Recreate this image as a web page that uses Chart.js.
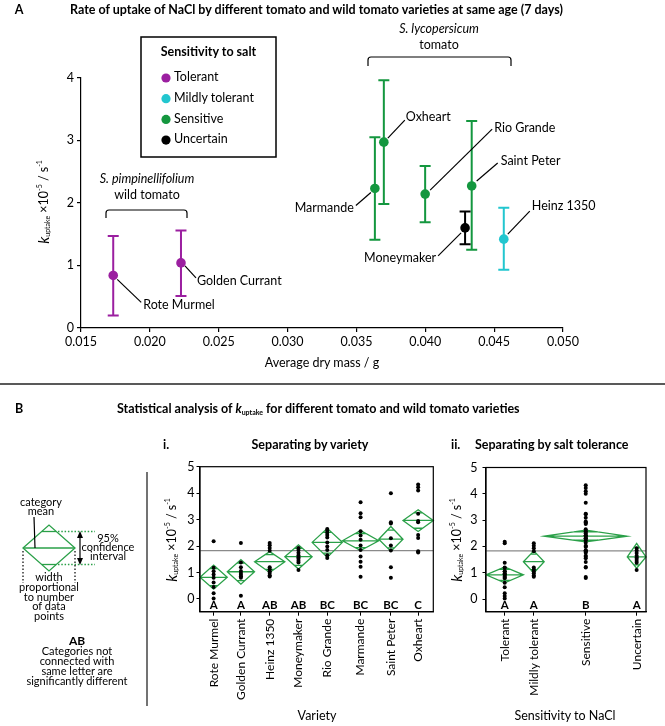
<!DOCTYPE html>
<html>
<head>
<meta charset="utf-8">
<script src="https://cdn.jsdelivr.net/npm/chart.js@4.4.1/dist/chart.umd.min.js"></script>
<style>
  html, body { margin: 0; padding: 0; background: #fff; }
  #page { position: relative; width: 665px; height: 726px; overflow: hidden; }
  #page canvas { position: absolute; }
  #overlay { position: absolute; left: 0; top: 0; pointer-events: none; }
</style>
</head>
<body>
<div id="page">
  <canvas id="chartA" width="620" height="300" style="left:0;top:60px"></canvas>
  <canvas id="chartVar" width="295" height="252" style="left:150px;top:455px"></canvas>
  <canvas id="chartTol" width="235" height="252" style="left:430px;top:455px"></canvas>

  <svg id="overlay" width="665" height="726" font-family="Lato, sans-serif" font-size="12.5">
    <!-- panel A headings -->
    <text x="19" y="11" font-weight="bold" text-anchor="middle" dominant-baseline="middle">A</text>
    <text x="70" y="11" font-weight="bold" dominant-baseline="middle">Rate of uptake of NaCl by different tomato and wild tomato varieties at same age (7 days)</text>

    <!-- legend box -->
    <rect x="141" y="37" width="135" height="120" fill="#fff" stroke="#000" stroke-width="1.5"/>
    <text x="208.5" y="53" font-weight="bold" text-anchor="middle" dominant-baseline="middle">Sensitivity to salt</text>
    <g id="legendItems"></g>

    <!-- species brackets -->
    <text x="147" y="180" text-anchor="middle" dominant-baseline="middle" font-style="italic">S. pimpinellifolium</text>
    <text x="147" y="196" text-anchor="middle" dominant-baseline="middle">wild tomato</text>
    <path d="M106,218 V213 Q106,210 109,210 H184 Q187,210 187,213 V218" fill="none" stroke="#000" stroke-width="1.2"/>
    <text x="439" y="30" text-anchor="middle" dominant-baseline="middle" font-style="italic">S. lycopersicum</text>
    <text x="439" y="46" text-anchor="middle" dominant-baseline="middle">tomato</text>
    <path d="M368,66 V60 Q368,57 371,57 H508 Q511,57 511,60 V66" fill="none" stroke="#000" stroke-width="1.2"/>

    <!-- panel A axis titles -->
    <text transform="translate(45,202) rotate(-90)" text-anchor="middle" dominant-baseline="middle"><tspan font-style="italic" font-size="15">k</tspan><tspan font-size="7" dy="3">uptake</tspan><tspan dy="-3"> ×10</tspan><tspan font-size="7" dy="-5">-5</tspan><tspan dy="5"> / s</tspan><tspan font-size="7" dy="-5">-1</tspan></text>
    <text x="322" y="364" text-anchor="middle" dominant-baseline="middle">Average dry mass / g</text>

    <line x1="0" y1="384" x2="665" y2="384" stroke="#222" stroke-width="1.6"/>

    <!-- panel B headings -->
    <text x="19" y="410" font-weight="bold" text-anchor="middle" dominant-baseline="middle">B</text>
    <text x="117" y="410" font-weight="bold" dominant-baseline="middle">Statistical analysis of <tspan font-style="italic">k</tspan><tspan font-size="7" dy="3">uptake</tspan><tspan dy="-3"> for different tomato and wild tomato varieties</tspan></text>
    <text x="163" y="446" font-weight="bold" dominant-baseline="middle">i.</text>
    <text x="310" y="446" font-weight="bold" text-anchor="middle" dominant-baseline="middle">Separating by variety</text>
    <text x="451" y="446" font-weight="bold" dominant-baseline="middle">ii.</text>
    <text x="475" y="446" font-weight="bold" dominant-baseline="middle">Separating by salt tolerance</text>

    <!-- y titles panel B -->
    <text transform="translate(173,540) rotate(-90)" text-anchor="middle" dominant-baseline="middle"><tspan font-style="italic" font-size="15">k</tspan><tspan font-size="7" dy="3">uptake</tspan><tspan dy="-3"> ×10</tspan><tspan font-size="7" dy="-5">-5</tspan><tspan dy="5"> / s</tspan><tspan font-size="7" dy="-5">-1</tspan></text>
    <text transform="translate(458,540) rotate(-90)" text-anchor="middle" dominant-baseline="middle"><tspan font-style="italic" font-size="15">k</tspan><tspan font-size="7" dy="3">uptake</tspan><tspan dy="-3"> ×10</tspan><tspan font-size="7" dy="-5">-5</tspan><tspan dy="5"> / s</tspan><tspan font-size="7" dy="-5">-1</tspan></text>
    <text x="317" y="717" text-anchor="middle" dominant-baseline="middle">Variety</text>
    <text x="565" y="717" text-anchor="middle" dominant-baseline="middle">Sensitivity to NaCl</text>

    <!-- key diagram -->
    <line x1="147" y1="472" x2="147" y2="706" stroke="#444" stroke-width="1.5"/>
    <g font-size="11" text-anchor="middle" dominant-baseline="middle">
      <text x="41" y="503">category</text>
      <text x="41" y="512">mean</text>
      <text x="108" y="539">95%</text>
      <text x="108" y="548">confidence</text>
      <text x="108" y="557">interval</text>
      <text x="49" y="578">width</text>
      <text x="49" y="588">proportional</text>
      <text x="49" y="598">to number</text>
      <text x="49" y="607">of data</text>
      <text x="49" y="617">points</text>
      <text x="77" y="642" font-weight="bold" font-size="12">AB</text>
      <text x="77" y="652">Categories not</text>
      <text x="77" y="662">connected with</text>
      <text x="77" y="672">same letter are</text>
      <text x="77" y="682">significantly different</text>
    </g>
    <g stroke="#2aa048" stroke-width="1.3" fill="none">
      <polygon points="23,548 49,525 75,548 49,571"/>
      <line x1="23" y1="548" x2="75" y2="548"/>
      <line x1="42" y1="531.5" x2="56" y2="531.5"/>
      <line x1="42" y1="564.5" x2="56" y2="564.5"/>
      <line x1="58" y1="531.5" x2="95" y2="531.5" stroke-dasharray="1.5,1.8"/>
      <line x1="58" y1="564.5" x2="95" y2="564.5" stroke-dasharray="1.5,1.8"/>
    </g>
    <g stroke="#000" stroke-width="1.2" fill="none">
      <line x1="34" y1="517" x2="35" y2="548"/>
      <line x1="23" y1="551" x2="23" y2="583" stroke-dasharray="1.5,2"/>
      <line x1="75" y1="551" x2="75" y2="583" stroke-dasharray="1.5,2"/>
      <line x1="80" y1="536" x2="80" y2="560"/>
    </g>
    <polygon points="80,531 77,538 83,538" fill="#000"/>
    <polygon points="80,565 77,558 83,558" fill="#000"/>
  </svg>
</div>

<script>
// ---- panel A: uptake vs dry mass ----
const varieties = ["Rote Murmel", "Golden Currant", "Marmande", "Oxheart", "Rio Grande", "Saint Peter", "Moneymaker", "Heinz 1350"];
const dryMass = [0.01734, 0.02226, 0.03634, 0.03699, 0.03999, 0.04337, 0.04289, 0.04570];
const kMean = [0.84, 1.04, 2.23, 2.97, 2.14, 2.27, 1.60, 1.42];
const kLow = [0.20, 0.51, 1.41, 1.98, 1.69, 1.25, 1.34, 0.93];
const kHigh = [1.47, 1.56, 3.05, 3.96, 2.59, 3.31, 1.86, 1.92];
const varTolerance = ["Tolerant", "Tolerant", "Sensitive", "Sensitive", "Sensitive", "Sensitive", "Uncertain", "Mildly tolerant"];
const toleranceClasses = ["Tolerant", "Mildly tolerant", "Sensitive", "Uncertain"];
const xTicksA = [0.015, 0.020, 0.025, 0.030, 0.035, 0.040, 0.045, 0.050];
const yTicksA = [0, 1, 2, 3, 4];

// ---- panel B: individual measurements per variety ----
const varOrder = ["Rote Murmel", "Golden Currant", "Heinz 1350", "Moneymaker", "Rio Grande", "Marmande", "Saint Peter", "Oxheart"];
const rotePts = [2.18, 1.18, 1.05, 0.93, 0.80, 0.62, 0.45, 0.22, 0.02];
const goldenPts = [2.12, 1.38, 1.20, 1.06, 0.98, 0.92, 0.86, 0.80, 0.12];
const heinzPts = [2.12, 2.03, 1.93, 1.82, 1.20, 1.12, 1.05, 0.98, 0.90, 0.85];
const moneyPts = [1.93, 1.85, 1.75, 1.65, 1.58, 1.52, 1.45, 1.38, 1.10];
const rioPts = [2.65, 2.58, 2.50, 2.42, 2.32, 2.14, 1.98, 1.85, 1.65, 1.55];
const marmandePts = [3.66, 3.24, 3.09, 2.56, 2.40, 2.24, 2.02, 1.85, 1.61, 1.41, 1.22, 0.84];
const peterPts = [4.00, 2.90, 2.85, 2.30, 2.02, 1.83, 1.20, 0.80];
const oxheartPts = [4.33, 4.22, 4.10, 3.22, 2.95, 2.90, 2.42, 2.31, 1.80, 1.76];
const varPoints = [rotePts, goldenPts, heinzPts, moneyPts, rioPts, marmandePts, peterPts, oxheartPts];
const varMeans = [0.82, 1.03, 1.41, 1.60, 2.14, 2.20, 2.26, 2.97];
const varCiLow = [0.37, 0.56, 1.00, 1.13, 1.57, 1.83, 1.80, 2.55];
const varCiHigh = [1.28, 1.49, 1.79, 2.05, 2.67, 2.59, 2.74, 3.37];
const varLetters = ["A", "A", "AB", "AB", "BC", "BC", "BC", "C"];

const tolMeans = [0.92, 1.42, 2.39, 1.60];
const tolCiLow = [0.62, 0.99, 2.17, 1.17];
const tolCiHigh = [1.22, 1.83, 2.62, 2.12];
const tolLetters = ["A", "A", "B", "A"];
const grandMean = 1.83;
const yTicksB = [0, 1, 2, 3, 4, 5];

Chart.defaults.font.family = "Lato, sans-serif";
Chart.defaults.color = "#000";
Chart.defaults.animation = false;

const tolColor = {
    "Tolerant": "#9b1fa0",
    "Mildly tolerant": "#22c6cf",
    "Sensitive": "#14973f",
    "Uncertain": "#000000"
};

// legend rows
const legendG = document.getElementById("legendItems");
toleranceClasses.forEach((cls, i) => {
    const cy = 78 + i * 20.7;
    legendG.insertAdjacentHTML("beforeend",
        `<circle cx="166" cy="${cy}" r="4.6" fill="${tolColor[cls]}"/>` +
        `<text x="174" y="${cy}" dominant-baseline="middle">${cls}</text>`);
});

// leader line + label offsets from the point: [x0, y0, x1, y1, textX, textY, align]
const labelPos = {
    "Rote Murmel": [4, 4, 28, 27, 30, 30, "left"],
    "Golden Currant": [4, 3, 15, 15, 16, 18, "left"],
    "Marmande": [-4, 4, -19, 17, -21, 20, "right"],
    "Oxheart": [4, -4, 21, -22, 22, -25, "left"],
    "Rio Grande": [5, -4, 67, -65, 69, -66, "left"],
    "Saint Peter": [5, -5, 26, -23, 29, -25, "left"],
    "Moneymaker": [-4, 5, -27, 28, -29, 30, "right"],
    "Heinz 1350": [4, -5, 26, -28, 28, -33, "left"]
};

const errorBars = {
    id: "errorBars",
    beforeDatasetsDraw(chart) {
        const { ctx, scales: { x, y } } = chart;
        ctx.save();
        ctx.lineWidth = 2;
        chart.data.datasets.forEach(ds => {
            ctx.strokeStyle = ds.backgroundColor;
            ds.data.forEach(p => {
                const px = x.getPixelForValue(p.x);
                const yl = y.getPixelForValue(p.lo);
                const yh = y.getPixelForValue(p.hi);
                ctx.beginPath();
                ctx.moveTo(px, yl); ctx.lineTo(px, yh);
                ctx.moveTo(px - 5.5, yl); ctx.lineTo(px + 5.5, yl);
                ctx.moveTo(px - 5.5, yh); ctx.lineTo(px + 5.5, yh);
                ctx.stroke();
            });
        });
        ctx.restore();
    },
    afterDatasetsDraw(chart) {
        const { ctx, scales: { x, y } } = chart;
        ctx.save();
        ctx.lineWidth = 1.2;
        ctx.strokeStyle = "#000";
        ctx.fillStyle = "#000";
        ctx.font = "12.5px Lato, sans-serif";
        ctx.textBaseline = "middle";
        chart.data.datasets.forEach(ds => {
            ds.data.forEach(p => {
                const lp = labelPos[p.name];
                const px = x.getPixelForValue(p.x), py = y.getPixelForValue(p.y);
                ctx.beginPath();
                ctx.moveTo(px + lp[0], py + lp[1]);
                ctx.lineTo(px + lp[2], py + lp[3]);
                ctx.stroke();
                ctx.textAlign = lp[6];
                ctx.fillText(p.name, px + lp[4], py + lp[5]);
            });
        });
        ctx.restore();
    }
};

const datasetsA = toleranceClasses.map(cls => ({
    label: cls,
    data: varieties
        .map((v, i) => ({ x: dryMass[i], y: kMean[i], lo: kLow[i], hi: kHigh[i], name: v }))
        .filter((p, i) => varTolerance[i] === cls),
    pointRadius: 4.8,
    pointHoverRadius: 4.8,
    backgroundColor: tolColor[cls],
    borderWidth: 0
}));

const axisGrid = { drawOnChartArea: false, color: "#000", tickLength: 4, lineWidth: 1.2 };

new Chart(document.getElementById("chartA"), {
    type: "scatter",
    data: { datasets: datasetsA },
    plugins: [errorBars],
    options: {
        responsive: false,
        layout: { padding: { left: 0, top: 17.7, right: 57, bottom: 0 } },
        plugins: { legend: { display: false }, tooltip: { enabled: false } },
        scales: {
            x: {
                type: "linear", min: 0.015, max: 0.05,
                afterBuildTicks: s => { s.ticks = xTicksA.map(v => ({ value: v })); },
                afterFit: s => { s.height = 32; },
                ticks: { callback: v => v.toFixed(3), font: { size: 12.5 }, padding: 2, maxRotation: 0 },
                grid: axisGrid,
                border: { color: "#000", width: 1.2 }
            },
            y: {
                min: 0, max: 4,
                afterBuildTicks: s => { s.ticks = yTicksA.map(v => ({ value: v })); },
                afterFit: s => { s.width = 81; },
                ticks: { font: { size: 12.5 }, padding: 3 },
                grid: axisGrid,
                border: { color: "#000", width: 1.2 }
            }
        }
    }
});

// ---- strip charts with means diamonds ----
function buildGroups(counts, means, lo, hi) {
    let start = 0;
    return counts.map((n, i) => {
        const g = { start: start, end: start + n, mean: means[i], lo: lo[i], hi: hi[i] };
        start += n;
        return g;
    });
}

function stripPlugin(groups, letters) {
    return {
        id: "strip",
        beforeDatasetsDraw(chart) {
            const { ctx, chartArea: a, scales: { x, y } } = chart;
            ctx.save();
            // grand mean
            const gy = y.getPixelForValue(grandMean);
            ctx.strokeStyle = "#8a8a8a";
            ctx.lineWidth = 1.3;
            ctx.beginPath(); ctx.moveTo(a.left, gy); ctx.lineTo(a.right, gy); ctx.stroke();
            // diamonds
            ctx.strokeStyle = "#2aa048";
            ctx.lineWidth = 1.3;
            groups.forEach(g => {
                const xl = x.getPixelForValue(g.start), xr = x.getPixelForValue(g.end);
                const xc = (xl + xr) / 2, hw = (xr - xl) / 2;
                const ym = y.getPixelForValue(g.mean);
                const yt = y.getPixelForValue(g.hi), yb = y.getPixelForValue(g.lo);
                ctx.beginPath();
                ctx.moveTo(xl, ym); ctx.lineTo(xc, yt); ctx.lineTo(xr, ym); ctx.lineTo(xc, yb); ctx.closePath();
                ctx.moveTo(xl, ym); ctx.lineTo(xr, ym);
                const f = 1 - 1 / Math.SQRT2;
                const ot = ym + (yt - ym) / Math.SQRT2, ob = ym + (yb - ym) / Math.SQRT2;
                ctx.moveTo(xc - hw * f, ot); ctx.lineTo(xc + hw * f, ot);
                ctx.moveTo(xc - hw * f, ob); ctx.lineTo(xc + hw * f, ob);
                ctx.stroke();
            });
            ctx.restore();
        },
        afterDatasetsDraw(chart) {
            const { ctx, chartArea: a, scales: { x } } = chart;
            ctx.save();
            ctx.fillStyle = "#000";
            ctx.font = "bold 11.5px Lato, sans-serif";
            ctx.textAlign = "center";
            ctx.textBaseline = "middle";
            groups.forEach((g, i) => {
                ctx.fillText(letters[i], x.getPixelForValue((g.start + g.end) / 2), a.bottom - 6);
            });
            ctx.strokeStyle = "#000";
            ctx.lineWidth = 1.2;
            ctx.strokeRect(a.left, a.top, a.right - a.left, a.bottom - a.top);
            ctx.restore();
        }
    };
}

function stripChart(canvasId, names, pointsByCat, groups, letters, yAxisW, rightPad, tickPad) {
    const total = groups[groups.length - 1].end;
    const centers = groups.map(g => (g.start + g.end) / 2);
    const data = [];
    pointsByCat.forEach((pts, i) => pts.forEach(v => data.push({ x: centers[i], y: v })));
    return new Chart(document.getElementById(canvasId), {
        type: "scatter",
        data: {
            datasets: [{ data: data, pointRadius: 2, pointHoverRadius: 2, backgroundColor: "#000", borderWidth: 0 }]
        },
        plugins: [stripPlugin(groups, letters)],
        options: {
            responsive: false,
            layout: { padding: { left: 0, top: 11.7, right: rightPad, bottom: 0 } },
            plugins: { legend: { display: false }, tooltip: { enabled: false } },
            scales: {
                x: {
                    type: "linear", min: 0, max: total,
                    afterBuildTicks: s => { s.ticks = centers.map(v => ({ value: v })); },
                    afterFit: s => { s.height = 95.3; },
                    ticks: {
                        autoSkip: false, minRotation: 90, maxRotation: 90, padding: 3,
                        font: { size: 12 },
                        callback: (v, i) => names[i]
                    },
                    grid: { drawOnChartArea: false, color: "#000", tickLength: 4, lineWidth: 1 },
                    border: { color: "#000", width: 1.2 }
                },
                y: {
                    min: -0.48, max: 5,
                    afterBuildTicks: s => { s.ticks = yTicksB.map(v => ({ value: v })); },
                    afterFit: s => { s.width = yAxisW; },
                    ticks: { font: { size: 12.5 }, padding: tickPad },
                    grid: { drawOnChartArea: false, color: "#000", tickLength: 3.5, lineWidth: 1 },
                    border: { color: "#000", width: 1.2 }
                }
            }
        }
    });
}

const varGroups = buildGroups(varPoints.map(p => p.length), varMeans, varCiLow, varCiHigh);
stripChart("chartVar", varOrder, varPoints, varGroups, varLetters, 50, 11.7, 2);

// salt tolerance classes pool the variety measurements
const tolPoints = toleranceClasses.map(cls => {
    let all = [];
    varOrder.forEach((v, i) => {
        if (varTolerance[varieties.indexOf(v)] === cls) all = all.concat(varPoints[i]);
    });
    return all;
});
const tolGroups = buildGroups(tolPoints.map(p => p.length), tolMeans, tolCiLow, tolCiHigh);
stripChart("chartTol", toleranceClasses, tolPoints, tolGroups, tolLetters, 56, 19, 5);
</script>
</body>
</html>
